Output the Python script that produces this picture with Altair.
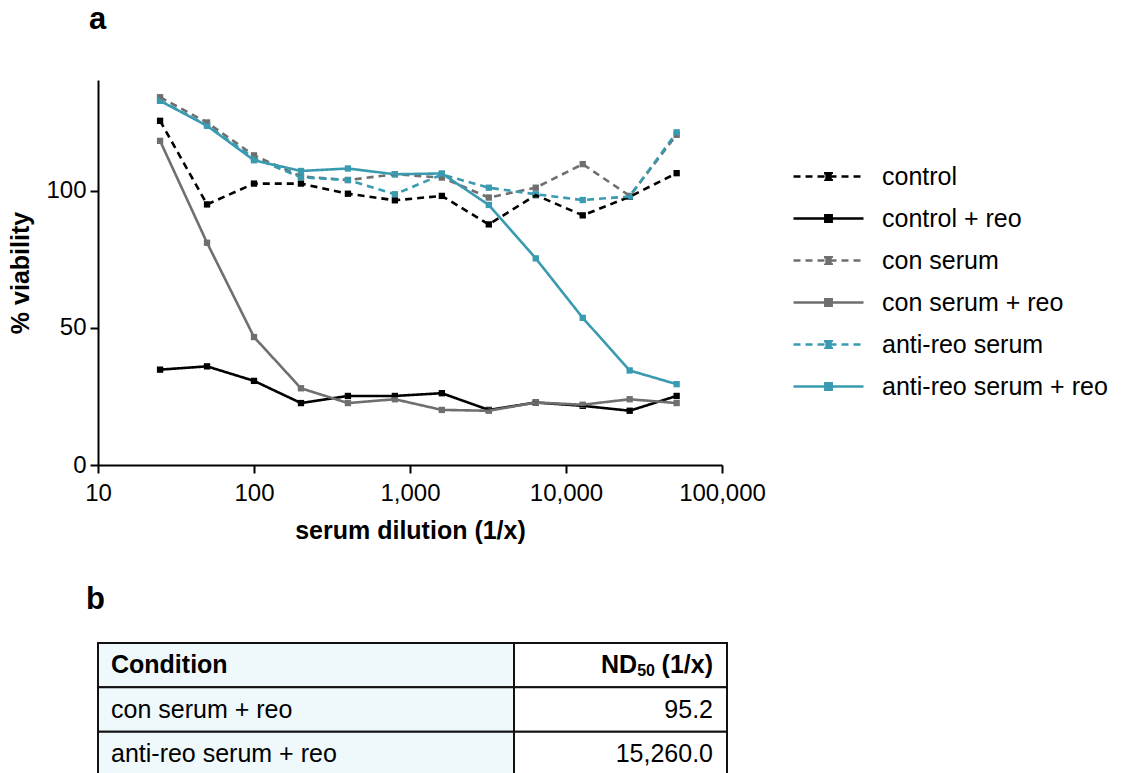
import altair as alt
import pandas as pd

# ---------------- data ----------------
dilutions = [25, 50, 100, 200, 400, 800, 1600, 3200, 6400, 12800, 25600, 51200]
series_names = ["control", "control + reo", "con serum", "con serum + reo",
                "anti-reo serum", "anti-reo serum + reo"]
control = [125.6, 95.1, 102.7, 102.7, 99.0, 96.6, 98.2, 87.8, 98.5, 91.1, 97.9, 106.5]
control_reo = [34.8, 36.0, 30.7, 22.6, 25.2, 25.2, 26.2, 20.1, 22.8, 21.6, 19.8, 25.2]
con_serum = [134.2, 125.0, 113.0, 105.3, 104.0, 106.1, 104.9, 97.6, 101.2, 109.8, 98.2, 120.5]
con_serum_reo = [118.3, 81.1, 46.7, 28.0, 22.6, 24.0, 20.1, 19.8, 22.8, 22.0, 24.0, 22.6]
anti_serum = [133.0, 124.0, 112.0, 105.0, 104.0, 98.8, 106.0, 101.2, 98.8, 96.7, 98.0, 121.4]
anti_serum_reo = [132.9, 123.8, 111.2, 107.3, 108.2, 106.1, 106.4, 94.9, 75.4, 53.7, 34.5, 29.5]

x_ticks = [10, 100, 1000, 10000, 100000]
y_ticks = [0, 50, 100]

table_header = ["Condition", "ND", "50", " (1/x)"]
table_conditions = ["con serum + reo", "anti-reo serum + reo"]
table_nd50 = ["95.2", "15,260.0"]

# ---------------- styles ----------------
colors = ["#000000", "#000000", "#6f6f6f", "#6f6f6f", "#3a9bb0", "#3a9bb0"]
dashes = [[7, 5], [1, 0], [7, 5], [1, 0], [7, 5], [1, 0]]
FONT = "Liberation Sans"

all_values = [control, control_reo, con_serum, con_serum_reo, anti_serum, anti_serum_reo]
rows = []
for name, vals in zip(series_names, all_values):
    for d, v in zip(dilutions, vals):
        rows.append({"series": name, "dilution": d, "viability": v})
df = pd.DataFrame(rows)

legend = alt.Legend(
    title=None, orient="none", legendX=694, legendY=84,
    symbolType="M-1,0H1M-0.09,-0.09H0.09V0.09H-0.09Z",
    symbolSize=4900, symbolStrokeWidth=2.6, symbolOpacity=1,
    labelFontSize=25, labelFont=FONT, labelColor="black", labelOffset=17,
    labelLimit=500, clipHeight=25, rowPadding=16, padding=0,
)

x_enc = alt.X("dilution:Q",
              scale=alt.Scale(type="log", domain=[10, 100000]),
              axis=alt.Axis(values=x_ticks, format=",", title="serum dilution (1/x)",
                            labelFontSize=24, labelPadding=8, titleFontSize=25,
                            titlePadding=13, labelFlush=False, labelOverlap=False))
y_enc = alt.Y("viability:Q",
              scale=alt.Scale(domain=[0, 140.5], nice=False, zero=True),
              axis=alt.Axis(values=y_ticks, title="% viability",
                            labelFontSize=24, labelPadding=4, titleFontSize=25,
                            titlePadding=12))
color_enc = alt.Color("series:N", scale=alt.Scale(domain=series_names, range=colors),
                      legend=legend)
dash_enc = alt.StrokeDash("series:N", scale=alt.Scale(domain=series_names, range=dashes),
                          legend=legend)

base = alt.Chart(df)
points = base.mark_point(shape="square", filled=True, size=40, opacity=1).encode(
    x=x_enc, y=y_enc, color=color_enc)
lines = base.mark_line(strokeWidth=2.6).encode(
    x=x_enc, y=y_enc, color=color_enc, strokeDash=dash_enc)

chart_a = alt.layer(points, lines).properties(
    width=624, height=385,
    title=alt.TitleParams("a", anchor="start", frame="group", fontSize=31,
                          fontWeight="bold", font=FONT, color="black", dx=-9, offset=44),
)

# ---------------- table ----------------
SPLIT = 416 / 629  # column boundary as fraction of table width
row_keys = ["header"] + table_conditions
cells = []
for r in row_keys:
    cells.append({"row": r, "c0": 0.0, "c1": SPLIT, "fill": "#eff9fc"})
    cells.append({"row": r, "c0": SPLIT, "c1": 1.0, "fill": "#ffffff"})
cells_df = pd.DataFrame(cells)

y_tab = alt.Y("row:N", scale=alt.Scale(domain=row_keys, paddingInner=0, paddingOuter=0),
              axis=None)
x_tab_scale = alt.Scale(domain=[0, 1], nice=False, zero=False)

rects = alt.Chart(cells_df).mark_rect(stroke="#111111", strokeWidth=2).encode(
    x=alt.X("c0:Q", scale=x_tab_scale, axis=None), x2="c1:Q", y=y_tab,
    fill=alt.Fill("fill:N", scale=None))

body_df = pd.DataFrame({"row": table_conditions, "cond": table_conditions, "nd": table_nd50})
row_y = alt.Y("row:N", scale=alt.Scale(domain=row_keys), axis=None)
left_txt = alt.Chart(body_df).mark_text(align="left", baseline="middle", dx=13,
                                        fontSize=25, font=FONT, color="black").encode(
    x=alt.datum(0, scale=x_tab_scale), y=row_y, text="cond:N")
right_txt = alt.Chart(body_df).mark_text(align="right", baseline="middle", dx=-14,
                                         fontSize=25, font=FONT, color="black").encode(
    x=alt.datum(1, scale=x_tab_scale), y=row_y, text="nd:N")

hdr_df = pd.DataFrame({"row": ["header"], "cond": [table_header[0]], "nd": [table_header[1]],
                       "sub": [table_header[2]], "unit": [table_header[3]]})
hdr_left = alt.Chart(hdr_df).mark_text(align="left", baseline="middle", dx=13, fontSize=25,
                                       fontWeight="bold", font=FONT, color="black").encode(
    x=alt.datum(0, scale=x_tab_scale), y=row_y, text="cond:N")
hdr_unit = alt.Chart(hdr_df).mark_text(align="right", baseline="middle", dx=-14, fontSize=25,
                                       fontWeight="bold", font=FONT, color="black").encode(
    x=alt.datum(1, scale=x_tab_scale), y=row_y, text="unit:N")
hdr_sub = alt.Chart(hdr_df).mark_text(align="right", baseline="middle", dx=-72, dy=6,
                                      fontSize=16, fontWeight="bold", font=FONT,
                                      color="black").encode(
    x=alt.datum(1, scale=x_tab_scale), y=row_y, text="sub:N")
hdr_nd = alt.Chart(hdr_df).mark_text(align="right", baseline="middle", dx=-90, fontSize=25,
                                     fontWeight="bold", font=FONT, color="black").encode(
    x=alt.datum(1, scale=x_tab_scale), y=row_y, text="nd:N")

table = alt.layer(rects, left_txt, right_txt, hdr_left, hdr_unit, hdr_sub, hdr_nd).properties(
    width=629, height=133,
    title=alt.TitleParams("b", anchor="start", frame="group", fontSize=31,
                          fontWeight="bold", font=FONT, color="black", dx=-12, offset=26),
)

chart = alt.vconcat(chart_a, table, spacing=178, bounds="flush", center=False).properties(
    padding={"left": 8, "top": 4, "right": 5, "bottom": 0},
).configure(font=FONT).configure_view(stroke=None).configure_axis(
    grid=False, domainColor="black", domainWidth=2, tickColor="black", tickWidth=2,
    tickSize=8, labelColor="black", titleColor="black", labelFont=FONT, titleFont=FONT,
    titleFontWeight="bold",
).configure_concat(spacing=178)

chart.save("out.html", embed_options={"renderer": "svg", "actions": False})
